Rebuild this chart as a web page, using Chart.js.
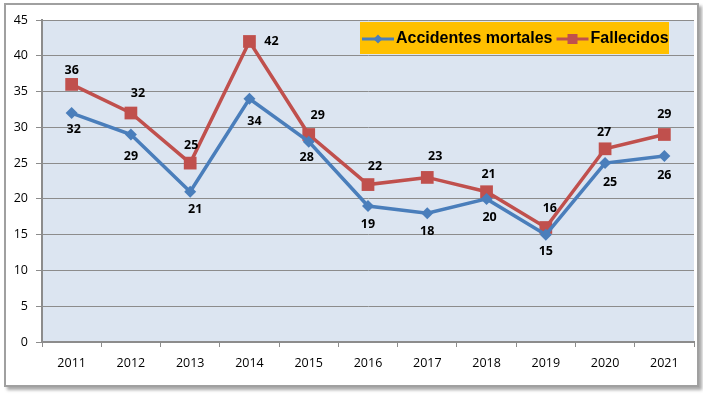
<!DOCTYPE html>
<html>
<head>
<meta charset="utf-8">
<script src="https://cdn.jsdelivr.net/npm/chart.js@4.4.1/dist/chart.umd.min.js"></script>
<style>
  html, body { margin: 0; padding: 0; background: #fff; }
  body { width: 703px; height: 394px; position: relative; overflow: hidden; }
  .frame {
    position: absolute; left: 4px; top: 3px; width: 691px; height: 380px;
    border: 2px solid #a0a0a0; box-shadow: 3px 3px 3px #a8a8a8; background: #fff;
  }
  #wrap { position: absolute; left: 0; top: 0; width: 703px; height: 394px; }
</style>
</head>
<body>
<div class="frame"></div>
<div id="wrap"><canvas id="c" width="703" height="394"></canvas></div>
<script>
// ---- data ----
const years      = ["2011","2012","2013","2014","2015","2016","2017","2018","2019","2020","2021"];
const accidentes = [32, 29, 21, 34, 28, 19, 18, 20, 15, 25, 26];
const fallecidos = [36, 32, 25, 42, 29, 22, 23, 21, 16, 27, 29];
const yTicks     = [0, 5, 10, 15, 20, 25, 30, 35, 40, 45];

const BLUE = "#4a7ebb";
const RED  = "#c0504d";

// label offsets (px) relative to each point, per series
const lblOffsets = [
  { dx: [2,0,5,5,-2,0,0,3,0,5,0],   dy: [16,22,18,23,16,18,18,19,17,19,19] },
  { dx: [0,7,1,22,9,7,8,2,4,-1,0],  dy: [-14,-20,-18,0,-19,-18,-21,-17,-19,-16,-20] }
];

// ---- plugins ----
const plotBg = {
  id: "plotBg",
  beforeDraw(chart){
    const { ctx, chartArea: a } = chart;
    ctx.save();
    ctx.fillStyle = "#dce5f1";
    ctx.fillRect(a.left, a.top, a.right - a.left, a.bottom - a.top);
    ctx.restore();
  }
};

const valueLabels = {
  id: "valueLabels",
  afterDatasetsDraw(chart){
    const ctx = chart.ctx;
    ctx.save();
    ctx.font = "bold 12.5px 'Noto Sans', 'DejaVu Sans', sans-serif";
    ctx.fillStyle = "#000";
    ctx.textAlign = "center";
    ctx.textBaseline = "middle";
    chart.data.datasets.forEach((ds, i) => {
      const meta = chart.getDatasetMeta(i);
      const off = lblOffsets[i];
      meta.data.forEach((pt, j) => {
        ctx.fillText(String(ds.data[j]), pt.x + off.dx[j], pt.y + off.dy[j]);
      });
    });
    ctx.restore();
  }
};

const boxLegend = {
  id: "boxLegend",
  afterDraw(chart){
    const ctx = chart.ctx;
    const x0 = 360, y0 = 22, w = 309, h = 32, cy = y0 + h / 2 + 1;
    ctx.save();
    ctx.fillStyle = "#ffc000";
    ctx.fillRect(x0, y0, w, h);
    ctx.font = "bold 16px 'Liberation Sans', Arial, sans-serif";
    ctx.textBaseline = "middle";
    ctx.textAlign = "left";
    let x = x0 + 2;
    chart.data.datasets.forEach((ds) => {
      ctx.strokeStyle = ds.borderColor;
      ctx.lineWidth = 3;
      ctx.beginPath();
      ctx.moveTo(x, cy); ctx.lineTo(x + 32, cy);
      ctx.stroke();
      ctx.fillStyle = ds.borderColor;
      ctx.beginPath();
      if (ds.pointStyle === "rectRot"){
        ctx.moveTo(x + 16, cy - 4.5); ctx.lineTo(x + 20.5, cy);
        ctx.lineTo(x + 16, cy + 4.5); ctx.lineTo(x + 11.5, cy);
        ctx.closePath();
      } else {
        ctx.rect(x + 11, cy - 5, 10, 10);
      }
      ctx.fill();
      x += 34;
      ctx.fillStyle = "#000";
      ctx.fillText(ds.label, x, cy);
      x += ctx.measureText(ds.label).width + 4;
    });
    ctx.restore();
  }
};

// ---- chart ----
new Chart(document.getElementById("c"), {
  type: "line",
  data: {
    labels: years,
    datasets: [
      {
        label: "Accidentes mortales",
        data: accidentes,
        borderColor: BLUE,
        backgroundColor: BLUE,
        borderWidth: 3.5,
        pointStyle: "rectRot",
        pointRadius: 6,
        pointBorderWidth: 0,
        tension: 0
      },
      {
        label: "Fallecidos",
        data: fallecidos,
        borderColor: RED,
        backgroundColor: RED,
        borderWidth: 3.5,
        pointStyle: "rect",
        pointRadius: 9,
        pointBorderWidth: 0,
        tension: 0
      }
    ]
  },
  options: {
    responsive: false,
    animation: false,
    layout: { padding: { left: 0, right: 6, top: 20, bottom: 0 } },
    plugins: { legend: { display: false }, tooltip: { enabled: false } },
    scales: {
      x: {
        offset: true,
        grid: { offset: true, drawOnChartArea: false, drawTicks: true, tickLength: 5, color: "#8c8c8c" },
        border: { color: "#8c8c8c", width: 2 },
        ticks: { color: "#000", font: { family: "'Open Sans', sans-serif", size: 12.5 }, padding: 9 },
        afterFit(s){ s.height = 52; }
      },
      y: {
        min: 0, max: 45,
        afterBuildTicks(s){ s.ticks = yTicks.map(v => ({ value: v })); },
        grid: { color: "#8c8c8c", lineWidth: 1, tickLength: 6 },
        border: { color: "#8c8c8c", width: 2 },
        ticks: { color: "#000", font: { family: "'Open Sans', sans-serif", size: 12.5 }, padding: 8 },
        afterFit(s){ s.width = 42; }
      }
    }
  },
  plugins: [plotBg, valueLabels, boxLegend]
});
</script>
</body>
</html>
